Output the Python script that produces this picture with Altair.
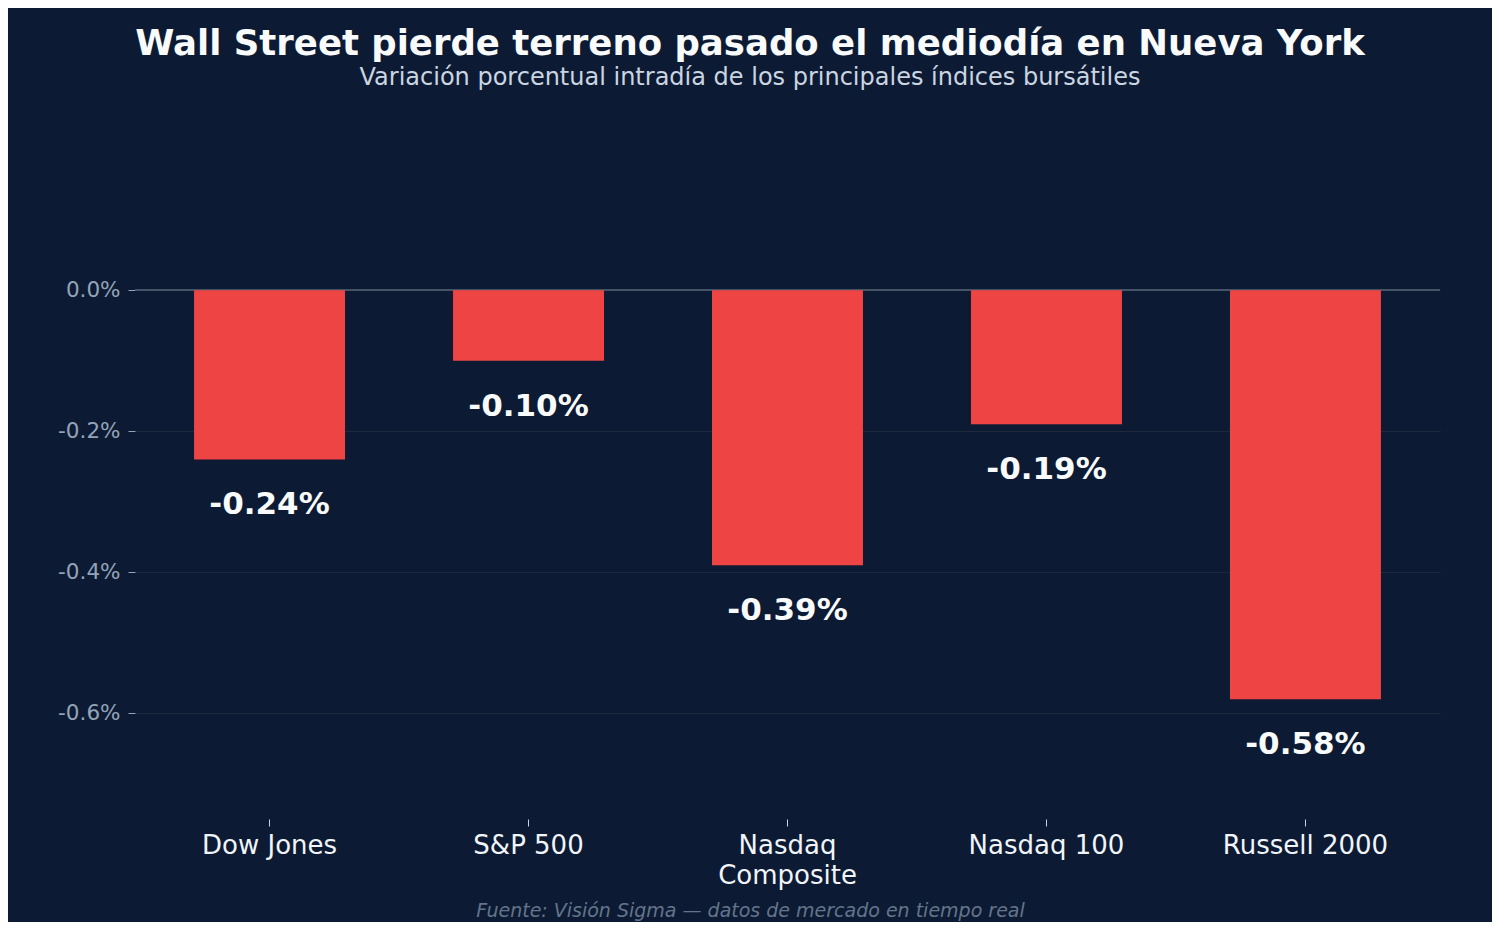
import altair as alt
import pandas as pd

indices = ["Dow Jones", "S&P 500", "Nasdaq Composite", "Nasdaq 100", "Russell 2000"]
changes = [-0.24, -0.10, -0.39, -0.19, -0.58]
value_labels = ["-0.24%", "-0.10%", "-0.39%", "-0.19%", "-0.58%"]
y_ticks = [-0.6, -0.4, -0.2, 0.0]

df = pd.DataFrame({"indice": indices, "cambio": changes, "etiqueta": value_labels})

FONT = "DejaVu Sans"
BG = "#0c1b33"

x_enc = alt.X(
    "indice:N",
    sort=indices,
    scale=alt.Scale(paddingInner=0.417, paddingOuter=0.228),
    axis=alt.Axis(
        title="Fuente: Visión Sigma — datos de mercado en tiempo real",
        labelAngle=0,
        labelFont=FONT,
        labelFontSize=26,
        labelColor="#f1f5f9",
        labelExpr="datum.label == 'Nasdaq Composite' ? ['Nasdaq', 'Composite'] : datum.label",
        labelLineHeight=30,
        labelPadding=6,
        tickSize=7,
        tickColor="#cbd5e1",
        domain=False,
        grid=False,
        titleFont=FONT,
        titleFontStyle="italic",
        titleFontWeight="normal",
        titleFontSize=19,
        titleColor="#64748b",
        titleX=615,
        titleY=91,
        titleAlign="center",
        titleBaseline="middle",
    ),
)

y_scale = alt.Scale(domain=[-0.75, 0.25], nice=False, zero=False)

y_enc = alt.Y(
    "cambio:Q",
    scale=y_scale,
    axis=alt.Axis(
        title=None,
        values=y_ticks,
        labelExpr="(datum.value < 0 ? '-' : '') + format(abs(datum.value), '.1f') + '%'",
        labelFont=FONT,
        labelFontSize=21.5,
        labelColor="#94a3b8",
        labelPadding=8,
        tickSize=7,
        tickColor="#94a3b8",
        domain=False,
        grid=True,
        gridColor="#1e293b",
        gridWidth=1,
    ),
)

base = alt.Chart(df)

zero_line = base.mark_rule(color="#475569", strokeWidth=1.5).encode(
    y=alt.datum(0, scale=y_scale)
)

bars = base.mark_bar(color="#ef4444").encode(x=x_enc, y=y_enc)

texts = base.mark_text(
    dy=46, baseline="middle", align="center", font=FONT, fontSize=31,
    fontWeight="bold", color="#f8fafc"
).encode(x=alt.X("indice:N", sort=indices), y=alt.Y("cambio:Q"), text="etiqueta:N")

chart = (
    alt.layer(zero_line, bars, texts)
    .properties(
        width=1305,
        height=705,
        autosize=alt.AutoSizeParams(type="none"),
        padding={"left": 127, "top": 106, "right": 52, "bottom": 103},
        background=BG,
        title=alt.TitleParams(
            text="Wall Street pierde terreno pasado el mediodía en Nueva York",
            subtitle="Variación porcentual intradía de los principales índices bursátiles",
            anchor="middle",
            dx=-37.5,
            offset=24,
            font=FONT,
            fontSize=35.5,
            fontWeight="bold",
            color="#f8fafc",
            subtitleFont=FONT,
            subtitleFontSize=24,
            subtitleColor="#cbd5e1",
            subtitlePadding=4,
        ),
    )
    .configure_view(stroke=None)
)

chart.save("out.html", embed_options={"renderer": "svg", "actions": False})
